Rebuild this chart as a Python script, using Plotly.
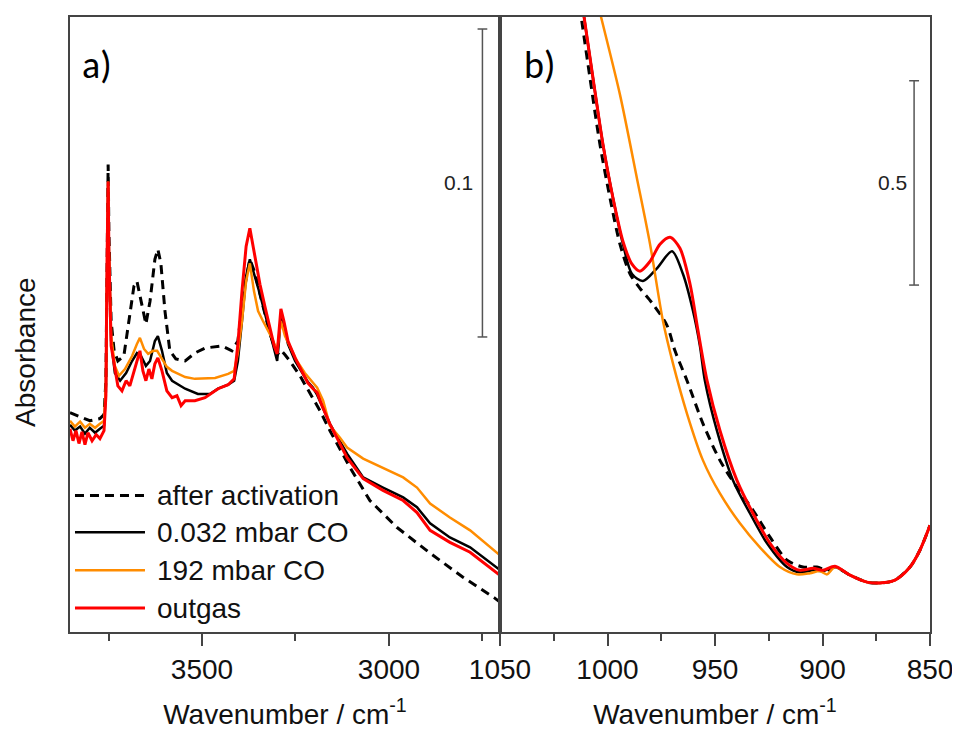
import plotly.graph_objects as go

# ---------------- Panel a) OH region (wavenumber, absorbance) ----------------
wn_a_act = [3853, 3826, 3800, 3773, 3762, 3757, 3754, 3751, 3749, 3743, 3735, 3725, 3709, 3693,
            3682, 3674, 3663, 3650, 3639, 3626, 3618, 3610, 3599, 3586, 3570, 3545, 3519, 3492,
            3447, 3420, 3404, 3388, 3372, 3358, 3345, 3318, 3299, 3289, 3278, 3265, 3238, 3219,
            3184, 3158, 3104, 3051, 2979, 2890, 2802, 2717, 2703]
abs_a_act = [0.0712, 0.0699, 0.0686, 0.0693, 0.0706, 0.0816, 0.1236, 0.1518, 0.1301, 0.1010,
             0.0913, 0.0880, 0.0896, 0.1026, 0.1123, 0.1139, 0.1074, 0.1000, 0.1074, 0.1210,
             0.1243, 0.1197, 0.1042, 0.0913, 0.0887, 0.0880, 0.0906, 0.0922, 0.0929, 0.0913,
             0.0945, 0.1107, 0.1210, 0.1165, 0.1097, 0.0968, 0.0900, 0.0915, 0.0900, 0.0880,
             0.0832, 0.0793, 0.0718, 0.0654, 0.0534, 0.0427, 0.0340, 0.0256, 0.0178, 0.0110, 0.0097]

wn_a_low = [3853, 3840, 3826, 3813, 3800, 3786, 3773, 3762, 3757, 3754, 3751, 3749, 3743, 3733,
            3719, 3703, 3687, 3674, 3663, 3650, 3639, 3626, 3618, 3607, 3594, 3580, 3545, 3511,
            3479, 3457, 3430, 3414, 3404, 3393, 3382, 3372, 3361, 3345, 3332, 3318, 3307, 3299,
            3294, 3289, 3281, 3270, 3251, 3230, 3217, 3203, 3192, 3179, 3158, 3112, 3069, 3016,
            2962, 2925, 2890, 2837, 2783, 2703]
abs_a_low = [0.0673, 0.0654, 0.0667, 0.0644, 0.0663, 0.0647, 0.0660, 0.0670, 0.0783, 0.1204,
             0.1463, 0.1236, 0.0945, 0.0841, 0.0816, 0.0841, 0.0880, 0.0906, 0.0896, 0.0864,
             0.0880, 0.0945, 0.0961, 0.0913, 0.0841, 0.0816, 0.0790, 0.0773, 0.0773, 0.0790,
             0.0803, 0.0816, 0.0880, 0.1010, 0.1155, 0.1210, 0.1165, 0.1097, 0.1036, 0.0968,
             0.0913, 0.0880, 0.0945, 0.1032, 0.0994, 0.0935, 0.0880, 0.0838, 0.0812, 0.0793,
             0.0770, 0.0735, 0.0676, 0.0579, 0.0502, 0.0469, 0.0437, 0.0405, 0.0353, 0.0307,
             0.0275, 0.0201]

wn_a_high = [3853, 3840, 3826, 3813, 3800, 3786, 3773, 3762, 3757, 3754, 3751, 3749, 3743, 3733,
             3722, 3706, 3687, 3674, 3666, 3655, 3644, 3631, 3620, 3607, 3594, 3580, 3545, 3519,
             3465, 3430, 3414, 3404, 3393, 3382, 3372, 3361, 3350, 3337, 3326, 3313, 3299, 3289,
             3278, 3265, 3246, 3225, 3211, 3192, 3176, 3158, 3131, 3112, 3069, 3016, 2962, 2925,
             2890, 2837, 2783, 2703]
abs_a_high = [0.0686, 0.0667, 0.0683, 0.0663, 0.0676, 0.0663, 0.0676, 0.0686, 0.0799, 0.1204,
              0.1463, 0.1236, 0.0961, 0.0864, 0.0832, 0.0854, 0.0896, 0.0935, 0.0955, 0.0919,
              0.0903, 0.0913, 0.0913, 0.0887, 0.0861, 0.0848, 0.0828, 0.0822, 0.0825, 0.0838,
              0.0848, 0.0906, 0.1010, 0.1139, 0.1197, 0.1107, 0.1042, 0.1010, 0.0987, 0.0955,
              0.0913, 0.1010, 0.0961, 0.0929, 0.0880, 0.0841, 0.0820, 0.0793, 0.0751, 0.0670,
              0.0631, 0.0599, 0.0563, 0.0534, 0.0502, 0.0469, 0.0417, 0.0372, 0.0330, 0.0249]

wn_a_out = [3853, 3845, 3837, 3829, 3821, 3813, 3805, 3794, 3783, 3773, 3762, 3757, 3754, 3751,
            3749, 3743, 3735, 3725, 3714, 3703, 3693, 3682, 3671, 3666, 3658, 3650, 3642, 3634,
            3626, 3618, 3607, 3594, 3580, 3567, 3556, 3545, 3519, 3492, 3457, 3430, 3414, 3404,
            3393, 3382, 3372, 3361, 3345, 3332, 3318, 3307, 3299, 3294, 3289, 3281, 3270, 3251,
            3230, 3217, 3203, 3192, 3179, 3158, 3112, 3069, 3016, 2962, 2925, 2890, 2837, 2783, 2703]
abs_a_out = [0.0660, 0.0621, 0.0654, 0.0612, 0.0650, 0.0608, 0.0647, 0.0621, 0.0641, 0.0628,
             0.0654, 0.0767, 0.1204, 0.1463, 0.1236, 0.0929, 0.0871, 0.0799, 0.0783, 0.0816,
             0.0799, 0.0848, 0.0896, 0.0913, 0.0848, 0.0816, 0.0854, 0.0822, 0.0871, 0.0890,
             0.0848, 0.0783, 0.0761, 0.0767, 0.0735, 0.0751, 0.0751, 0.0761, 0.0790, 0.0803,
             0.0822, 0.0935, 0.1107, 0.1252, 0.1311, 0.1236, 0.1129, 0.1058, 0.0987, 0.0929,
             0.0903, 0.0977, 0.1049, 0.1010, 0.0945, 0.0890, 0.0841, 0.0809, 0.0790, 0.0777,
             0.0735, 0.0676, 0.0566, 0.0498, 0.0460, 0.0427, 0.0388, 0.0330, 0.0291, 0.0259, 0.0184]

# ---------------- Panel b) framework region ----------------
tail_wn = [887.2, 879.3, 873.3, 866.3, 859.3, 854.7, 850.0]
tail_abs = [0.139, 0.122, 0.120, 0.127, 0.159, 0.200, 0.261]

wn_b_act = [1014.9, 1011.9, 1008.1, 1003.5, 998.8, 994.2, 989.5, 984.9, 978.8, 972.3, 968.6, 963.0,
            955.6, 947.7, 939.8, 932.3, 924.4, 916.5, 909.1, 902.6, 897.9, 894.2] + tail_wn
abs_b_act = [1.605, 1.493, 1.354, 1.193, 1.061, 0.949, 0.876, 0.841, 0.802, 0.750, 0.688, 0.615,
             0.510, 0.420, 0.354, 0.298, 0.232, 0.176, 0.159, 0.159, 0.151, 0.159] + tail_abs

wn_b_low = [1013.7, 1010.9, 1006.7, 1002.1, 997.4, 992.8, 988.6, 983.5, 977.0, 970.0, 964.9, 960.2,
            957.0, 954.7, 949.1, 941.6, 933.7, 925.8, 916.5, 910.5, 904.4, 899.8, 894.2] + tail_wn
abs_b_low = [1.605, 1.505, 1.354, 1.193, 1.061, 0.949, 0.876, 0.859, 0.890, 0.932, 0.876, 0.785,
             0.700, 0.615, 0.493, 0.371, 0.290, 0.217, 0.159, 0.146, 0.151, 0.149, 0.159] + tail_abs

wn_b_high = [1007.7, 1003.0, 994.2, 986.3, 980.2, 974.2, 969.5, 963.0, 955.6, 947.7, 938.4, 929.1,
             919.8, 911.9, 905.8, 901.2, 897.9, 894.2] + tail_wn
abs_b_high = [1.605, 1.505, 1.315, 1.110, 0.949, 0.761, 0.656, 0.534, 0.420, 0.339, 0.266, 0.207,
              0.159, 0.141, 0.144, 0.149, 0.141, 0.159] + tail_abs

wn_b_out = [1013.7, 1010.9, 1006.7, 1002.1, 997.4, 992.8, 988.6, 984.9, 980.2, 975.6, 970.9, 966.3,
            961.6, 957.9, 953.7, 947.7, 939.8, 932.3, 924.4, 916.5, 910.5, 904.4, 899.8, 894.2] + tail_wn
abs_b_out = [1.605, 1.505, 1.354, 1.193, 1.061, 0.956, 0.900, 0.883, 0.907, 0.949, 0.966, 0.939,
             0.851, 0.737, 0.615, 0.493, 0.371, 0.290, 0.217, 0.168, 0.151, 0.156, 0.151, 0.161] + tail_abs

series_names = ["after activation", "0.032 mbar CO", "192 mbar CO", "outgas"]
series_colors = ["#000000", "#000000", "#FF8C00", "#FF0000"]
series_dash = ["9px,6px", "solid", "solid", "solid"]
series_width = [3, 2.5, 2.5, 3]

panel_a = [(wn_a_act, abs_a_act), (wn_a_low, abs_a_low), (wn_a_high, abs_a_high), (wn_a_out, abs_a_out)]
panel_b = [(wn_b_act, abs_b_act), (wn_b_low, abs_b_low), (wn_b_high, abs_b_high), (wn_b_out, abs_b_out)]

# axis / scale-bar settings
range_a = [3853, 2703]
range_b = [1050, 850]
yrange_a = [0, 0.1997]
yrange_b = [0, 1.505]
ticks_a = [3500, 3000]
minor_a = [3750, 3250, 2750]
ticks_b = [1050, 1000, 950, 900, 850]
minor_b = [1025, 975, 925, 875]
bar_a = dict(x=2750, y0=0.0958, length=0.1, label="0.1", cap=13, label_x=2769)
bar_b = dict(x=857.4, y0=0.849, length=0.5, label="0.5", cap=2.3, label_x=860.0)

FONT = "Liberation Sans, Arial, sans-serif"
FRAME = "#444444"

fig = go.Figure()
for i in range(4):
    x, y = panel_a[i]
    fig.add_trace(go.Scatter(x=x, y=y, mode="lines", name=series_names[i], showlegend=False,
                             line=dict(color=series_colors[i], width=series_width[i], dash=series_dash[i]),
                             xaxis="x", yaxis="y"))
for i in range(4):
    x, y = panel_b[i]
    fig.add_trace(go.Scatter(x=x, y=y, mode="lines", name=series_names[i], showlegend=False,
                             line=dict(color=series_colors[i], width=series_width[i], dash=series_dash[i],
                                       shape="spline", smoothing=0.8),
                             xaxis="x2", yaxis="y2"))

axis_common = dict(showline=True, linecolor=FRAME, linewidth=1.5, mirror=True, showgrid=False,
                   zeroline=False, ticks="outside", ticklen=12, tickwidth=1.5, tickcolor=FRAME,
                   tickfont=dict(family=FONT, size=28, color="#111"))
title_font = dict(family=FONT, size=28, color="#111")

# page body has an 8px margin: figure is sized/margined so the plot frame lands at x 70-930, y 15-632
fig.update_layout(
    width=952, height=732,
    margin=dict(l=62, r=30, t=7, b=108),
    paper_bgcolor="white", plot_bgcolor="white",
    showlegend=False,
    xaxis=dict(domain=[0, 0.5], range=range_a, tickmode="array", tickvals=ticks_a,
               minor=dict(tickmode="array", tickvals=minor_a, ticks="outside", ticklen=7,
                          tickwidth=1.5, tickcolor=FRAME),
               title=dict(text="Wavenumber / cm<sup>-1</sup>", font=title_font, standoff=20),
               anchor="y", **axis_common),
    xaxis2=dict(domain=[0.5, 1], range=range_b, tickmode="array", tickvals=ticks_b,
                minor=dict(tickmode="array", tickvals=minor_b, ticks="outside", ticklen=7,
                           tickwidth=1.5, tickcolor=FRAME),
                title=dict(text="Wavenumber / cm<sup>-1</sup>", font=title_font, standoff=20),
                anchor="y2", **axis_common),
    yaxis=dict(domain=[0, 1], range=yrange_a, showline=True, linecolor=FRAME, linewidth=1.5,
               mirror=True, showgrid=False, zeroline=False, showticklabels=False, ticks="",
               anchor="x"),
    yaxis2=dict(domain=[0, 1], range=yrange_b, showline=True, linecolor=FRAME, linewidth=1.5,
                mirror=True, showgrid=False, zeroline=False, showticklabels=False, ticks="",
                anchor="x2"),
)

# scale bars
for bar, xr, yr in [(bar_a, "x", "y"), (bar_b, "x2", "y2")]:
    y1 = bar["y0"] + bar["length"]
    fig.add_shape(type="line", xref=xr, yref=yr, x0=bar["x"], x1=bar["x"], y0=bar["y0"], y1=y1,
                  line=dict(color="#555555", width=1.5))
    for yy in (bar["y0"], y1):
        fig.add_shape(type="line", xref=xr, yref=yr, x0=bar["x"] - bar["cap"], x1=bar["x"] + bar["cap"],
                      y0=yy, y1=yy, line=dict(color="#555555", width=1.5))
    fig.add_annotation(xref=xr, yref=yr, x=bar["label_x"], y=(bar["y0"] + y1) / 2, text=bar["label"],
                       showarrow=False, xanchor="right", yanchor="middle",
                       font=dict(family=FONT, size=21, color="#222"))

# panel labels
fig.add_annotation(xref="paper", yref="paper", x=0.0116, y=0.922, text="a)", showarrow=False,
                   xanchor="left", yanchor="middle", font=dict(family="Carlito, Lato, sans-serif", size=38, color="#000"))
fig.add_annotation(xref="paper", yref="paper", x=0.5256, y=0.922, text="b)", showarrow=False,
                   xanchor="left", yanchor="middle", font=dict(family="Carlito, Lato, sans-serif", size=38, color="#000"))

# y-axis title
fig.add_annotation(xref="paper", yref="paper", x=-0.0512, y=0.4554, text="Absorbance", showarrow=False,
                   textangle=-90, xanchor="center", yanchor="middle", font=title_font)

# legend (drawn manually to match long line samples)
leg_y = [0.222, 0.162, 0.1005, 0.0389]
for i in range(4):
    fig.add_shape(type="line", xref="paper", yref="paper", x0=0.0058, x1=0.0872, y0=leg_y[i], y1=leg_y[i],
                  line=dict(color=series_colors[i], width=series_width[i], dash=series_dash[i]))
    fig.add_annotation(xref="paper", yref="paper", x=0.0988, y=leg_y[i], text=series_names[i],
                       showarrow=False, xanchor="left", yanchor="middle",
                       font=dict(family=FONT, size=28, color="#111"))

fig.write_html("out.html")
